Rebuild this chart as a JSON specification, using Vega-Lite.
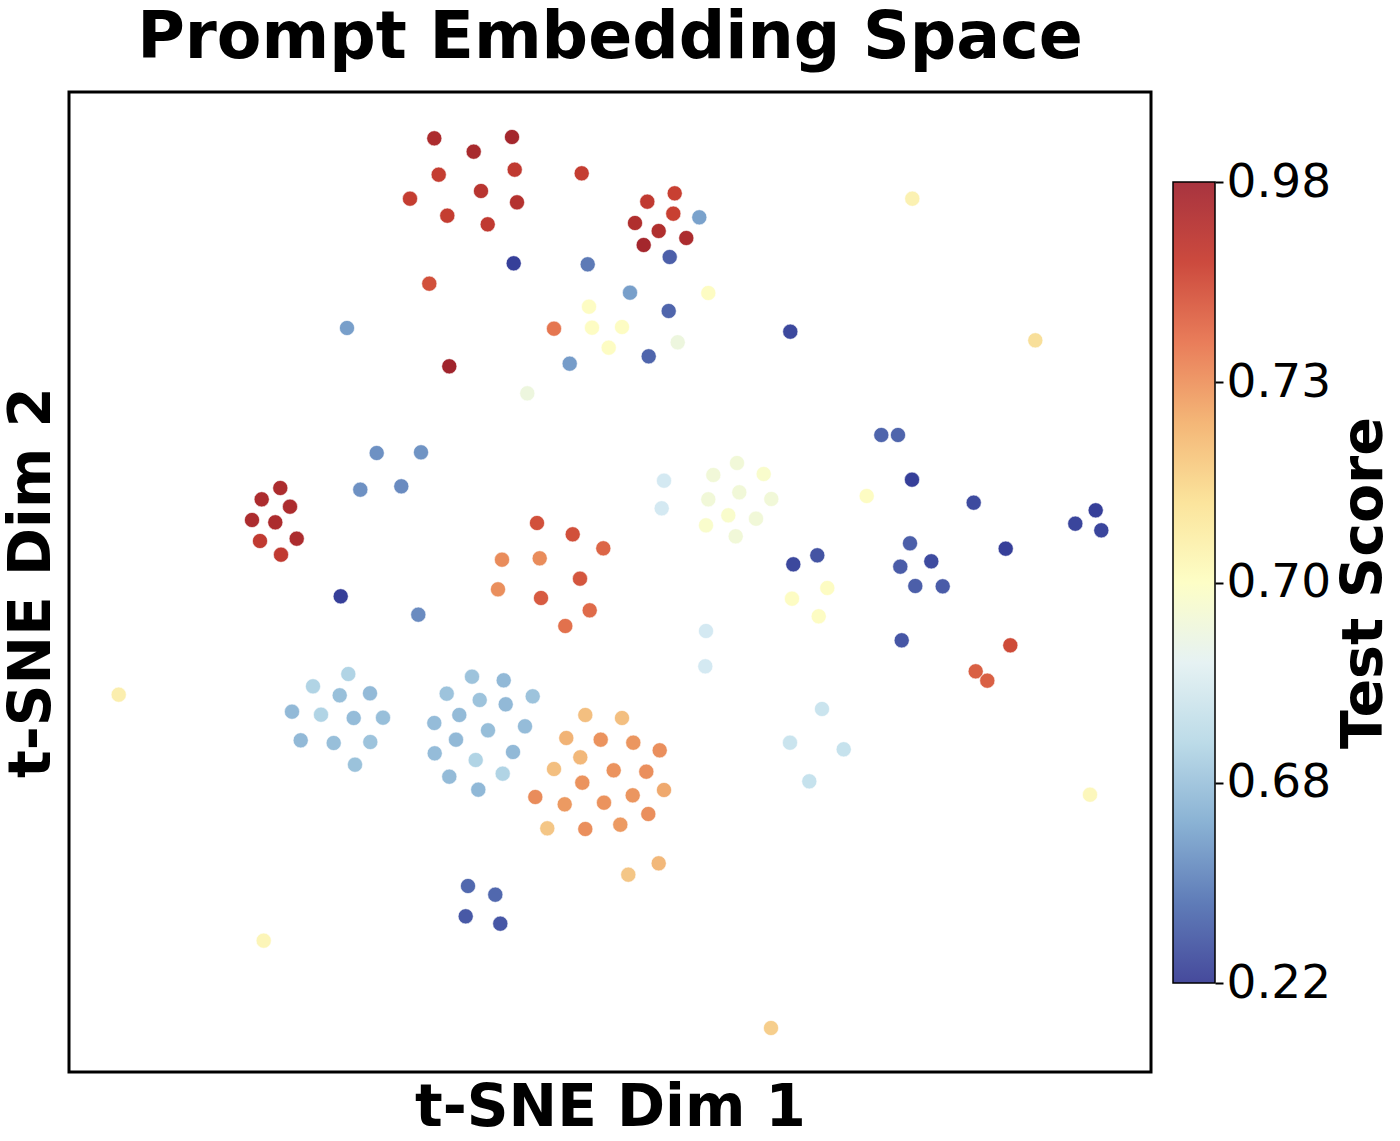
{
  "$schema": "https://vega.github.io/schema/vega-lite/v6.json",
  "background": "white",
  "padding": {"left": 1, "top": 4, "right": 0, "bottom": 0},
  "config": {"font": "DejaVu Sans", "view": {"stroke": null}},
  "spacing": 22,
  "bounds": "flush",
  "hconcat": [
    {
      "width": 1082,
      "height": 980,
      "view": {"stroke": "black", "strokeWidth": 3},
      "title": {"text": "Prompt Embedding Space", "fontSize": 65, "fontWeight": "bold", "color": "black", "offset": 20, "anchor": "middle"},
      "data": {"values": [
        {"x": -17.57, "y": 44.37, "score": 0.95},
        {"x": -9.8, "y": 44.5, "score": 0.97},
        {"x": -13.63, "y": 43.03, "score": 0.96},
        {"x": -17.13, "y": 40.73, "score": 0.89},
        {"x": -9.53, "y": 41.23, "score": 0.9},
        {"x": -2.83, "y": 40.87, "score": 0.89},
        {"x": -20.0, "y": 38.33, "score": 0.89},
        {"x": -12.9, "y": 39.1, "score": 0.92},
        {"x": -9.3, "y": 37.97, "score": 0.93},
        {"x": -16.27, "y": 36.63, "score": 0.89},
        {"x": -12.23, "y": 35.77, "score": 0.9},
        {"x": 6.47, "y": 38.87, "score": 0.88},
        {"x": 3.73, "y": 38.03, "score": 0.9},
        {"x": 6.33, "y": 36.83, "score": 0.88},
        {"x": 8.93, "y": 36.47, "score": 0.56},
        {"x": 2.5, "y": 35.9, "score": 0.94},
        {"x": 4.87, "y": 35.1, "score": 0.94},
        {"x": 7.63, "y": 34.4, "score": 0.95},
        {"x": 3.37, "y": 33.7, "score": 0.97},
        {"x": 5.97, "y": 32.5, "score": 0.33},
        {"x": -9.63, "y": 31.87, "score": 0.22},
        {"x": -2.23, "y": 31.77, "score": 0.42},
        {"x": -18.07, "y": 29.83, "score": 0.85},
        {"x": 2.0, "y": 28.93, "score": 0.55},
        {"x": 9.83, "y": 28.9, "score": 0.701},
        {"x": -2.1, "y": 27.53, "score": 0.701},
        {"x": 5.87, "y": 27.1, "score": 0.35},
        {"x": -5.6, "y": 25.33, "score": 0.78},
        {"x": -1.8, "y": 25.43, "score": 0.701},
        {"x": 1.2, "y": 25.5, "score": 0.701},
        {"x": 6.77, "y": 23.97, "score": 0.696},
        {"x": -0.13, "y": 23.43, "score": 0.701},
        {"x": 3.87, "y": 22.57, "score": 0.35},
        {"x": -4.03, "y": 21.83, "score": 0.54},
        {"x": -16.07, "y": 21.57, "score": 0.98},
        {"x": -8.27, "y": 18.87, "score": 0.696},
        {"x": -26.3, "y": 25.4, "score": 0.55},
        {"x": -23.33, "y": 12.9, "score": 0.5},
        {"x": -18.9, "y": 12.97, "score": 0.51},
        {"x": -24.97, "y": 9.23, "score": 0.5},
        {"x": -20.87, "y": 9.57, "score": 0.48},
        {"x": -32.97, "y": 9.4, "score": 0.95},
        {"x": -34.83, "y": 8.27, "score": 0.95},
        {"x": -32.0, "y": 7.53, "score": 0.95},
        {"x": -35.8, "y": 6.2, "score": 0.95},
        {"x": -33.47, "y": 5.97, "score": 0.95},
        {"x": -35.0, "y": 4.1, "score": 0.9},
        {"x": -31.33, "y": 4.33, "score": 0.95},
        {"x": -32.9, "y": 2.73, "score": 0.9},
        {"x": -26.93, "y": -1.43, "score": 0.22},
        {"x": -19.17, "y": -3.27, "score": 0.48},
        {"x": 5.4, "y": 10.13, "score": 0.69},
        {"x": 5.17, "y": 7.37, "score": 0.69},
        {"x": 12.7, "y": 11.9, "score": 0.697},
        {"x": 10.33, "y": 10.7, "score": 0.697},
        {"x": 15.37, "y": 10.8, "score": 0.699},
        {"x": 12.93, "y": 8.97, "score": 0.697},
        {"x": 9.83, "y": 8.27, "score": 0.697},
        {"x": 16.13, "y": 8.3, "score": 0.697},
        {"x": 11.83, "y": 6.67, "score": 0.699},
        {"x": 14.6, "y": 6.33, "score": 0.697},
        {"x": 9.6, "y": 5.67, "score": 0.699},
        {"x": 12.57, "y": 4.57, "score": 0.697},
        {"x": 25.67, "y": 8.6, "score": 0.701},
        {"x": -7.3, "y": 5.9, "score": 0.85},
        {"x": -3.73, "y": 4.77, "score": 0.85},
        {"x": -0.67, "y": 3.37, "score": 0.81},
        {"x": -10.8, "y": 2.23, "score": 0.75},
        {"x": -7.03, "y": 2.37, "score": 0.75},
        {"x": -3.0, "y": 0.33, "score": 0.84},
        {"x": -11.2, "y": -0.73, "score": 0.745},
        {"x": -6.9, "y": -1.6, "score": 0.83},
        {"x": -2.03, "y": -2.83, "score": 0.8},
        {"x": -4.47, "y": -4.4, "score": 0.79},
        {"x": 18.33, "y": 1.77, "score": 0.25},
        {"x": 20.73, "y": 2.67, "score": 0.29},
        {"x": 21.73, "y": -0.6, "score": 0.701},
        {"x": 18.2, "y": -1.67, "score": 0.701},
        {"x": 20.87, "y": -3.43, "score": 0.701},
        {"x": 9.6, "y": -4.9, "score": 0.69},
        {"x": 9.53, "y": -8.43, "score": 0.69},
        {"x": 18.03, "y": 25.03, "score": 0.25},
        {"x": 42.53, "y": 24.17, "score": 0.713},
        {"x": 27.13, "y": 14.7, "score": 0.35},
        {"x": 28.8, "y": 14.7, "score": 0.35},
        {"x": 30.2, "y": 10.23, "score": 0.22},
        {"x": 36.37, "y": 7.93, "score": 0.26},
        {"x": 48.57, "y": 7.17, "score": 0.22},
        {"x": 46.53, "y": 5.83, "score": 0.24},
        {"x": 49.13, "y": 5.17, "score": 0.24},
        {"x": 30.0, "y": 3.87, "score": 0.33},
        {"x": 39.57, "y": 3.33, "score": 0.22},
        {"x": 29.03, "y": 1.53, "score": 0.32},
        {"x": 32.13, "y": 2.07, "score": 0.26},
        {"x": 30.53, "y": -0.4, "score": 0.33},
        {"x": 33.27, "y": -0.43, "score": 0.32},
        {"x": 29.17, "y": -5.83, "score": 0.3},
        {"x": 40.03, "y": -6.33, "score": 0.86},
        {"x": 36.57, "y": -8.93, "score": 0.82},
        {"x": 37.73, "y": -9.87, "score": 0.82},
        {"x": -49.13, "y": -11.27, "score": 0.707},
        {"x": -26.17, "y": -9.2, "score": 0.683},
        {"x": -29.7, "y": -10.43, "score": 0.683},
        {"x": -27.03, "y": -11.33, "score": 0.668},
        {"x": -24.0, "y": -11.13, "score": 0.648},
        {"x": -31.8, "y": -12.97, "score": 0.645},
        {"x": -28.9, "y": -13.27, "score": 0.683},
        {"x": -25.63, "y": -13.6, "score": 0.655},
        {"x": -22.7, "y": -13.57, "score": 0.665},
        {"x": -30.93, "y": -15.83, "score": 0.645},
        {"x": -27.63, "y": -16.1, "score": 0.665},
        {"x": -23.97, "y": -16.0, "score": 0.68},
        {"x": -25.5, "y": -18.27, "score": 0.675},
        {"x": -13.8, "y": -9.47, "score": 0.68},
        {"x": -10.63, "y": -9.83, "score": 0.645},
        {"x": -16.33, "y": -11.17, "score": 0.68},
        {"x": -13.03, "y": -11.8, "score": 0.68},
        {"x": -10.43, "y": -12.23, "score": 0.645},
        {"x": -7.73, "y": -11.43, "score": 0.68},
        {"x": -15.07, "y": -13.3, "score": 0.65},
        {"x": -17.57, "y": -14.1, "score": 0.655},
        {"x": -12.2, "y": -14.83, "score": 0.66},
        {"x": -8.5, "y": -14.43, "score": 0.655},
        {"x": -15.4, "y": -15.77, "score": 0.645},
        {"x": -17.53, "y": -17.13, "score": 0.655},
        {"x": -13.43, "y": -17.8, "score": 0.683},
        {"x": -9.7, "y": -17.0, "score": 0.645},
        {"x": -16.07, "y": -19.47, "score": 0.65},
        {"x": -10.73, "y": -19.17, "score": 0.683},
        {"x": -13.17, "y": -20.77, "score": 0.64},
        {"x": -14.2, "y": -30.4, "score": 0.36},
        {"x": -11.47, "y": -31.27, "score": 0.36},
        {"x": -14.43, "y": -33.43, "score": 0.31},
        {"x": -10.97, "y": -34.17, "score": 0.3},
        {"x": -34.63, "y": -35.87, "score": 0.704},
        {"x": -2.47, "y": -13.3, "score": 0.722},
        {"x": 1.2, "y": -13.6, "score": 0.722},
        {"x": -4.37, "y": -15.6, "score": 0.725},
        {"x": -0.93, "y": -15.77, "score": 0.74},
        {"x": 2.33, "y": -16.07, "score": 0.735},
        {"x": 4.97, "y": -16.83, "score": 0.745},
        {"x": -2.97, "y": -17.53, "score": 0.724},
        {"x": -5.6, "y": -18.7, "score": 0.722},
        {"x": 0.37, "y": -18.83, "score": 0.74},
        {"x": 3.63, "y": -18.97, "score": 0.745},
        {"x": -2.77, "y": -20.07, "score": 0.74},
        {"x": 5.4, "y": -20.8, "score": 0.727},
        {"x": -7.47, "y": -21.5, "score": 0.75},
        {"x": -4.53, "y": -22.23, "score": 0.73},
        {"x": -0.6, "y": -22.07, "score": 0.74},
        {"x": 2.27, "y": -21.33, "score": 0.735},
        {"x": 3.83, "y": -23.2, "score": 0.745},
        {"x": -6.27, "y": -24.63, "score": 0.72},
        {"x": -2.47, "y": -24.7, "score": 0.745},
        {"x": 1.03, "y": -24.27, "score": 0.73},
        {"x": 4.87, "y": -28.13, "score": 0.724},
        {"x": 1.83, "y": -29.27, "score": 0.72},
        {"x": 16.1, "y": -44.6, "score": 0.718},
        {"x": 21.2, "y": -12.7, "score": 0.688},
        {"x": 18.0, "y": -16.07, "score": 0.688},
        {"x": 23.37, "y": -16.73, "score": 0.687},
        {"x": 19.93, "y": -19.93, "score": 0.687},
        {"x": 30.23, "y": 38.33, "score": 0.706},
        {"x": 48.0, "y": -21.27, "score": 0.703}
      ]},
      "mark": {"type": "circle", "size": 230, "opacity": 1, "stroke": "white", "strokeWidth": 0.6},
      "encoding": {
        "x": {"field": "x", "type": "quantitative", "scale": {"domain": [-54.1, 54.1], "nice": false, "zero": false},
              "axis": {"title": "t-SNE Dim 1", "labels": false, "ticks": false, "domain": false, "grid": false, "titleFontSize": 58, "titleFontWeight": "bold", "titleColor": "black", "titlePadding": 7}},
        "y": {"field": "y", "type": "quantitative", "scale": {"domain": [-49, 49], "nice": false, "zero": false},
              "axis": {"title": "t-SNE Dim 2", "labels": false, "ticks": false, "domain": false, "grid": false, "titleFontSize": 58, "titleFontWeight": "bold", "titleColor": "black", "titlePadding": 8}},
        "color": {"field": "score", "type": "quantitative", "legend": null,
                  "scale": {"domain": [0.22, 0.404, 0.588, 0.68, 0.684, 0.692, 0.70, 0.712, 0.724, 0.73, 0.78, 0.88, 0.98],
                            "range": ["#363f99", "#5a75b4", "#80aad0", "#9dc3dc", "#b8dae8", "#ddeef5", "#fdfec6", "#f9e39d", "#f2b87a", "#ec9a62", "#e57650", "#c84032", "#a0242c"],
                            "interpolate": "rgb"}}
      }
    },
    {
      "width": 42,
      "height": 980,
      "data": {"values": [{"lo": 0.22, "hi": 0.98}]},
      "mark": {"type": "rect", "stroke": "black", "strokeWidth": 1.5,
               "fill": {"gradient": "linear", "x1": 0, "y1": 1, "x2": 0, "y2": 0,
                        "stops": [
                          {"offset": 0.0, "color": "#464a9c"},
                          {"offset": 0.1, "color": "#5f7cb8"},
                          {"offset": 0.2, "color": "#8ab2d4"},
                          {"offset": 0.3, "color": "#bcdbe8"},
                          {"offset": 0.4, "color": "#e6f2f3"},
                          {"offset": 0.5, "color": "#fdfec6"},
                          {"offset": 0.6, "color": "#fbe49c"},
                          {"offset": 0.7, "color": "#f4b677"},
                          {"offset": 0.8, "color": "#e97d5a"},
                          {"offset": 0.9, "color": "#cc4a3e"},
                          {"offset": 1.0, "color": "#a8343f"}
                        ]}},
      "encoding": {
        "y": {"field": "hi", "type": "quantitative",
              "scale": {"domain": [0.22, 0.68, 0.70, 0.73, 0.98], "range": [891, 690.75, 490.5, 290.25, 90], "nice": false, "zero": false},
              "axis": {"orient": "right", "values": [0.22, 0.68, 0.70, 0.73, 0.98], "format": ".2f", "domain": false, "grid": false,
                       "tickSize": 8, "tickWidth": 2, "tickColor": "black", "labelFontSize": 47, "labelColor": "black", "labelPadding": 3,
                       "title": "Test Score", "titleAngle": 270, "titleBaseline": "top", "titleFontSize": 57, "titleFontWeight": "bold", "titleColor": "black", "titlePadding": 6}},
        "y2": {"field": "lo"}
      }
    }
  ]
}
